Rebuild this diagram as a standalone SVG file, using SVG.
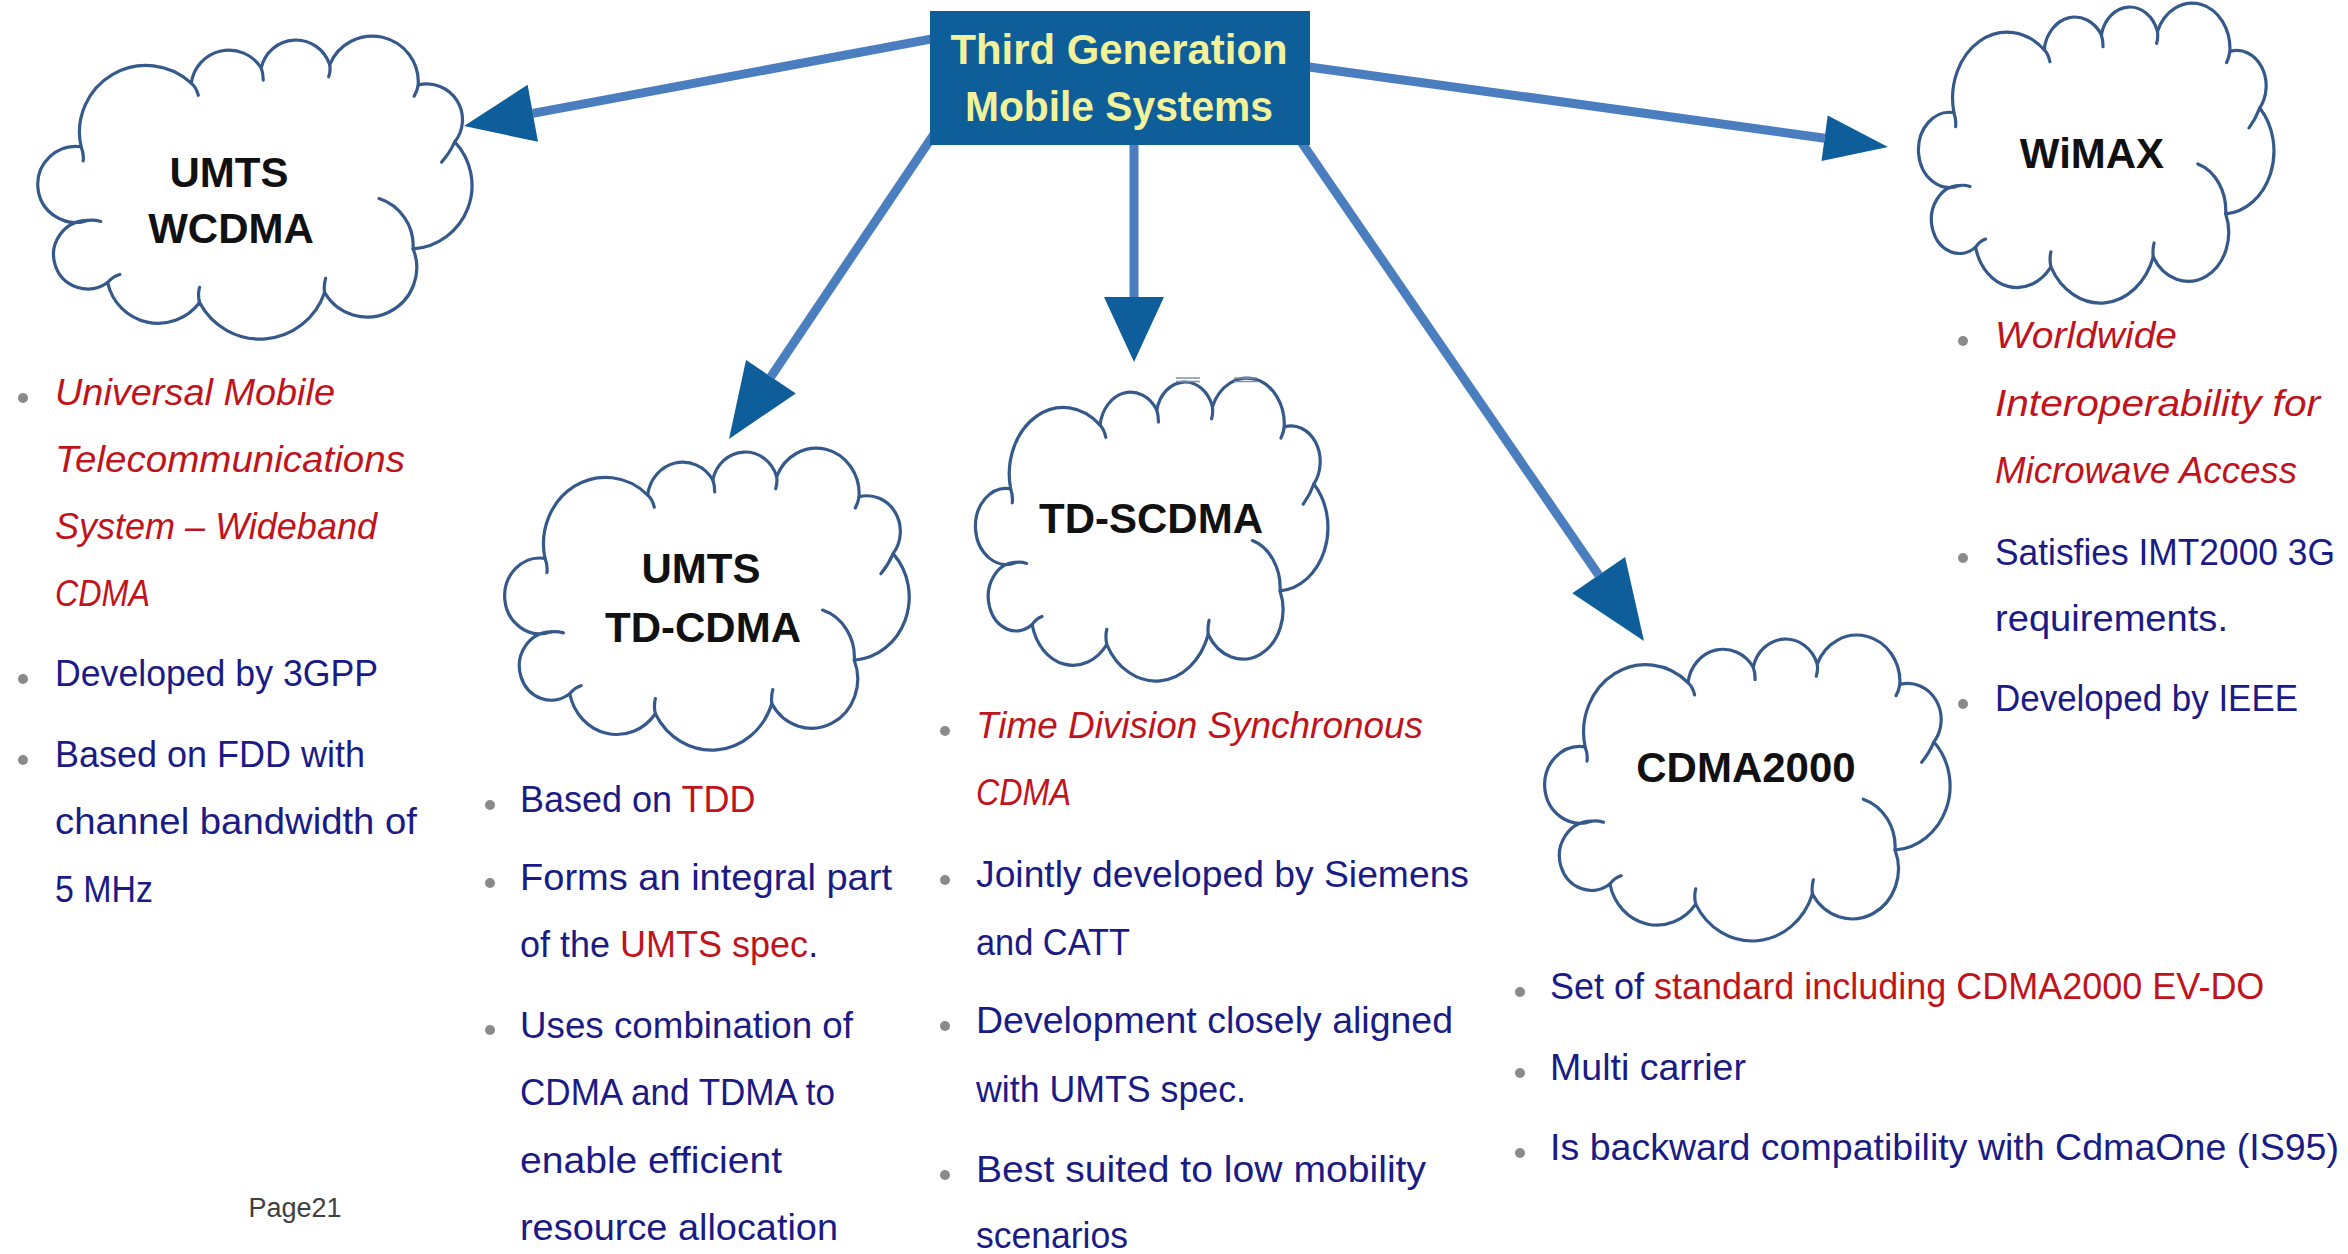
<svg xmlns="http://www.w3.org/2000/svg" xmlns:xlink="http://www.w3.org/1999/xlink" width="2348" height="1254" viewBox="0 0 2348 1254">
  <style>
    .bt { font-family: "Liberation Sans", Arial, sans-serif; font-size: 37px; fill: #1B1B85; }
    .mx { font-size: 36px; }
    .rd { fill: #C0141C; }
    .it { font-style: italic; fill: #C0141C; }
    .lbl { font-family: "Liberation Sans", Arial, sans-serif; font-weight: bold; font-size: 42px; fill: #111111; text-anchor: middle; }
    .title { font-family: "Liberation Sans", Arial, sans-serif; font-weight: bold; font-size: 42px; fill: #F2F29B; text-anchor: middle; }
    .dot { fill: #8A8A8A; }
    .cbody { fill: #FFFFFF; stroke: #35598A; stroke-width: 3.2; vector-effect: non-scaling-stroke; stroke-linejoin: round; }
    .ctick { fill: none; stroke: #35598A; stroke-width: 3.2; vector-effect: non-scaling-stroke; stroke-linecap: round; }
    .shaft { stroke: #4A7EBF; stroke-width: 9; fill: none; }
    .head { fill: #0D5E9A; }
    .page { font-family: "Liberation Sans", Arial, sans-serif; font-size: 27px; fill: #404040; text-anchor: middle; }
  </style>
  <defs>
    <!-- cloud outline in a 430 x 300 frame -->
    <g id="cloudShape">
      <path class="cbody" d="M 44.7,107.7 A 66 66 0 0 1 153.9,44.7 A 37.7 37.7 0 0 1 223.2,29.7 A 35.2 35.2 0 0 1 291.1,26.4 A 45.6 45.6 0 0 1 378.8,46.5 A 35.4 35.4 0 0 1 415,102.9 A 62.9 62.9 0 0 1 373.7,208.8 A 49 49 0 0 1 286,252 A 67.6 67.6 0 0 1 162.1,261.9 A 51.2 51.2 0 0 1 71,242.1 A 33.9 33.9 0 1 1 51.2,180.6 A 37.6 37.6 0 1 1 44.7,107.7 Z"/>
      <path class="ctick" d="M 44.7,107.7 q 3,7 2,14 M 153.9,44.7 q 5,4 7,12 M 223.2,29.7 q 2,5 2,12 M 291.1,26.4 q 1,6 -1,12 M 378.8,46.5 q -1,6 -4,11 M 415,102.9 q -5,11 -13,20 M 340,159 A 49 49 0 0 1 373.7,208.8 M 286,252 q -1,-7 1,-14 M 162.1,261.9 q -2,-8 0,-15 M 71,242.1 q 5,-6 12,-8 M 51.2,180.6 q 6,-1 13,1"/>
    </g>
  </defs>

  <rect width="2348" height="1254" fill="#FFFFFF"/>

  <!-- UMTS WCDMA -->
  <g id="node-umts-wcdma">
    <use xlink:href="#cloudShape" transform="translate(36,38) scale(1.009,1.01)"/>
    <text class="lbl" x="229" y="187">UMTS</text>
    <text class="lbl" x="231" y="243">WCDMA</text>
    <circle class="dot" cx="23" cy="398" r="5"/>
    <text class="bt it" x="55" y="405" textLength="280" lengthAdjust="spacingAndGlyphs">Universal Mobile</text>
    <text class="bt it" x="55" y="472" textLength="350" lengthAdjust="spacingAndGlyphs">Telecommunications</text>
    <text class="bt it" x="55" y="539" textLength="322" lengthAdjust="spacingAndGlyphs">System – Wideband</text>
    <text class="bt it" x="55" y="606" textLength="95" lengthAdjust="spacingAndGlyphs">CDMA</text>
    <circle class="dot" cx="23" cy="679" r="5"/>
    <text class="bt" x="55" y="686" textLength="323" lengthAdjust="spacingAndGlyphs">Developed by 3GPP</text>
    <circle class="dot" cx="23" cy="760" r="5"/>
    <text class="bt" x="55" y="767" textLength="310" lengthAdjust="spacingAndGlyphs">Based on FDD with</text>
    <text class="bt" x="55" y="834" textLength="362" lengthAdjust="spacingAndGlyphs">channel bandwidth of</text>
    <text class="bt" x="55" y="902" textLength="98" lengthAdjust="spacingAndGlyphs">5 MHz</text>
  </g>

  <!-- UMTS TD-CDMA -->
  <g id="node-umts-tdcdma">
    <use xlink:href="#cloudShape" transform="translate(503,450) scale(0.94,1.007)"/>
    <text class="lbl" x="701" y="583">UMTS</text>
    <text class="lbl" x="703" y="642">TD-CDMA</text>
    <circle class="dot" cx="490" cy="805" r="5"/>
    <text class="bt mx" x="520" y="812">Based on <tspan class="rd">TDD</tspan></text>
    <circle class="dot" cx="490" cy="883" r="5"/>
    <text class="bt" x="520" y="890" textLength="372" lengthAdjust="spacingAndGlyphs">Forms an integral part</text>
    <text class="bt mx" x="520" y="957">of the <tspan class="rd">UMTS spec</tspan>.</text>
    <circle class="dot" cx="490" cy="1030" r="5"/>
    <text class="bt" x="520" y="1038" textLength="333" lengthAdjust="spacingAndGlyphs">Uses combination of</text>
    <text class="bt" x="520" y="1105" textLength="315" lengthAdjust="spacingAndGlyphs">CDMA and TDMA to</text>
    <text class="bt" x="520" y="1173" textLength="262" lengthAdjust="spacingAndGlyphs">enable efficient</text>
    <text class="bt" x="520" y="1240" textLength="318" lengthAdjust="spacingAndGlyphs">resource allocation</text>
  </g>

  <!-- TD-SCDMA -->
  <g id="node-td-scdma">
    <use xlink:href="#cloudShape" transform="translate(974,380) scale(0.819,1.01)"/>
    <g stroke="#8090A8" stroke-width="1.5">
      <line x1="1176" y1="378" x2="1200" y2="378"/>
      <line x1="1176" y1="381.5" x2="1200" y2="381.5"/>
      <line x1="1234" y1="378" x2="1257" y2="378"/>
      <line x1="1234" y1="381.5" x2="1257" y2="381.5"/>
    </g>
    <text class="lbl" x="1151" y="533">TD-SCDMA</text>
    <circle class="dot" cx="945" cy="731" r="5"/>
    <text class="bt it" x="976" y="738" textLength="447" lengthAdjust="spacingAndGlyphs">Time Division Synchronous</text>
    <text class="bt it" x="976" y="805" textLength="95" lengthAdjust="spacingAndGlyphs">CDMA</text>
    <circle class="dot" cx="945" cy="880" r="5"/>
    <text class="bt" x="976" y="887" textLength="493" lengthAdjust="spacingAndGlyphs">Jointly developed by Siemens</text>
    <text class="bt" x="976" y="955" textLength="154" lengthAdjust="spacingAndGlyphs">and CATT</text>
    <circle class="dot" cx="945" cy="1026" r="5"/>
    <text class="bt" x="976" y="1033" textLength="477" lengthAdjust="spacingAndGlyphs">Development closely aligned</text>
    <text class="bt" x="976" y="1102" textLength="270" lengthAdjust="spacingAndGlyphs">with UMTS spec.</text>
    <circle class="dot" cx="945" cy="1175" r="5"/>
    <text class="bt" x="976" y="1182" textLength="450" lengthAdjust="spacingAndGlyphs">Best suited to low mobility</text>
    <text class="bt" x="976" y="1248" textLength="152" lengthAdjust="spacingAndGlyphs">scenarios</text>
  </g>

  <!-- CDMA2000 -->
  <g id="node-cdma2000">
    <use xlink:href="#cloudShape" transform="translate(1543,637) scale(0.942,1.02)"/>
    <text class="lbl" x="1746" y="782">CDMA2000</text>
    <circle class="dot" cx="1520" cy="992" r="5"/>
    <text class="bt mx" x="1550" y="999">Set of <tspan class="rd">standard including CDMA2000 EV-DO</tspan></text>
    <circle class="dot" cx="1520" cy="1073" r="5"/>
    <text class="bt" x="1550" y="1080" textLength="196" lengthAdjust="spacingAndGlyphs">Multi carrier</text>
    <circle class="dot" cx="1520" cy="1153" r="5"/>
    <text class="bt" x="1550" y="1160" textLength="789" lengthAdjust="spacingAndGlyphs">Is backward compatibility with CdmaOne (IS95)</text>
  </g>

  <!-- WiMAX -->
  <g id="node-wimax">
    <use xlink:href="#cloudShape" transform="translate(1917,5) scale(0.826,1.0)"/>
    <text class="lbl" x="2092" y="168">WiMAX</text>
    <circle class="dot" cx="1963" cy="341" r="5"/>
    <text class="bt it" x="1995" y="348" textLength="182" lengthAdjust="spacingAndGlyphs">Worldwide</text>
    <text class="bt it" x="1995" y="416" textLength="325" lengthAdjust="spacingAndGlyphs">Interoperability for</text>
    <text class="bt it" x="1995" y="483" textLength="302" lengthAdjust="spacingAndGlyphs">Microwave Access</text>
    <circle class="dot" cx="1963" cy="558" r="5"/>
    <text class="bt" x="1995" y="565" textLength="340" lengthAdjust="spacingAndGlyphs">Satisfies IMT2000 3G</text>
    <text class="bt" x="1995" y="631" textLength="233" lengthAdjust="spacingAndGlyphs">requirements.</text>
    <circle class="dot" cx="1963" cy="704" r="5"/>
    <text class="bt" x="1995" y="711" textLength="303" lengthAdjust="spacingAndGlyphs">Developed by IEEE</text>
  </g>

  <!-- connectors from the central box -->
  <g id="connectors">
    <line class="shaft" x1="940" y1="37.4" x2="532.8" y2="113.3"/>
    <polygon class="head" points="464,126 538,141.8 527.6,84.8"/>
    <line class="shaft" x1="938.3" y1="127.7" x2="770.9" y2="376.7"/>
    <polygon class="head" points="729,439 795.8,393.4 746,360"/>
    <line class="shaft" x1="1134" y1="140" x2="1134" y2="300"/>
    <polygon class="head" points="1134,362 1104,297 1164,297"/>
    <line class="shaft" x1="1293" y1="130" x2="1598.7" y2="575.1"/>
    <polygon class="head" points="1644,641 1625.1,557 1572.3,593.2"/>
    <line class="shaft" x1="1300" y1="65.7" x2="1824.6" y2="138.2"/>
    <polygon class="head" points="1888,147 1827.7,115.4 1821.5,161"/>
  </g>

  <!-- central box -->
  <g id="node-third-generation">
    <rect x="930" y="11" width="380" height="134" fill="#0E5E99"/>
    <text class="title" x="1119" y="64" textLength="337" lengthAdjust="spacingAndGlyphs">Third Generation</text>
    <text class="title" x="1119" y="121" textLength="308" lengthAdjust="spacingAndGlyphs">Mobile Systems</text>
  </g>

  <text class="page" x="295" y="1217">Page21</text>
</svg>
